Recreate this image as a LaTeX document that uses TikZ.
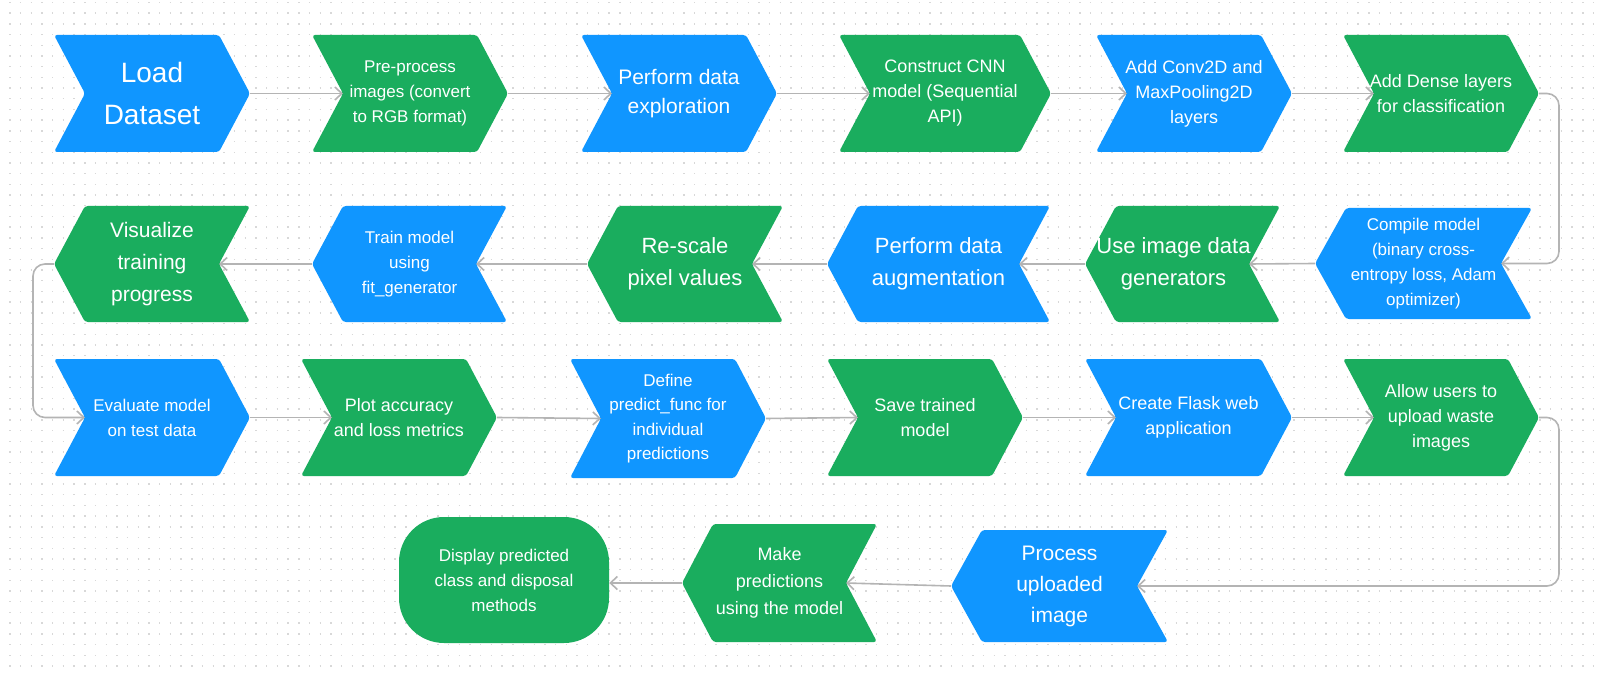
\documentclass[tikz,border=0pt]{standalone}
\usepackage{fontspec}
\setmainfont{Liberation Sans}
\usetikzlibrary{arrows.meta}
\definecolor{cblue}{HTML}{1096FF}
\definecolor{cgreen}{HTML}{1AAD5E}
\definecolor{cline}{HTML}{B4B4B4}
\definecolor{cdot}{HTML}{D8D8D8}
\newcommand{\chd}{31}
% right-pointing chevron: name, x0, x1, top, bottom, colour, size, leading, text
\newcommand{\rchev}[9]{%
  \fill[#6, rounded corners=3pt] (#2,#4) -- ({#3-\chd},#4) -- (#3,{(#4+#5)/2}) -- ({#3-\chd},#5) -- (#2,#5) -- ({#2+\chd},{(#4+#5)/2}) -- cycle;
  \coordinate (#1-in) at ({#2+\chd},{(#4+#5)/2});
  \coordinate (#1-out) at (#3,{(#4+#5)/2});
  \node[steptext, #1-t/.try, font=\fontsize{#7}{#8}\selectfont] (#1) at ({(#2+#3)/2},{(#4+#5)/2}) {#9};
}
% left-pointing chevron
\newcommand{\lchev}[9]{%
  \fill[#6, rounded corners=3pt] ({#2+\chd},#4) -- (#3,#4) -- ({#3-\chd},{(#4+#5)/2}) -- (#3,#5) -- ({#2+\chd},#5) -- (#2,{(#4+#5)/2}) -- cycle;
  \coordinate (#1-in) at ({#3-\chd},{(#4+#5)/2});
  \coordinate (#1-out) at (#2,{(#4+#5)/2});
  \node[steptext, #1-t/.try, font=\fontsize{#7}{#8}\selectfont] (#1) at ({(#2+#3)/2},{(#4+#5)/2}) {#9};
}
\tikzset{
  steptext/.style={text=white, align=center, inner sep=0pt},
  usegen-t/.style={xshift=-9pt},
  conn/.style={draw=cline, line width=1.6pt, -{Straight Barb[length=7pt, width=13pt, line width=1.6pt]}},
  dotline/.style={draw=cdot, line width=1.4pt, dash pattern=on 1.4pt off 9.3pt},
  endbox/.style={fill=cgreen, rounded corners=45pt, minimum width=210pt, minimum height=126pt, inner sep=0pt, text=white, align=center}
}
\begin{document}
\begin{tikzpicture}[x=1pt, y=-1pt]
\useasboundingbox (0,0) rectangle (1600,676);
\fill[white] (0,0) rectangle (1600,676);
\foreach \j in {0,...,62} {
  \draw[dotline] (9.2, {2.5+\j*10.7}) -- (1600, {2.5+\j*10.7});
}
% row 1
\rchev{load}{54}{250}{35}{152}{cblue}{28}{42}{Load\\Dataset}
\rchev{pre}{312}{508}{35}{152}{cgreen}{17}{25}{Pre-process\\images (convert\\to RGB format)}
\rchev{explore}{581}{777}{35}{152}{cblue}{21}{29}{Perform data\\exploration}
\rchev{cnn}{839}{1051}{35}{152}{cgreen}{18}{25}{Construct CNN\\model (Sequential\\API)}
\rchev{conv}{1096}{1292}{35}{152}{cblue}{18}{25}{Add Conv2D and\\MaxPooling2D\\layers}
\rchev{dense}{1343}{1539}{35}{152}{cgreen}{18}{25}{Add Dense layers\\for classification}
% row 2
\lchev{compile}{1315}{1532}{208}{319}{cblue}{17}{25}{Compile model\\(binary cross-\\entropy loss, Adam\\optimizer)}
\lchev{usegen}{1085}{1280}{206}{322}{cgreen}{22}{31.5}{Use image data\\generators}
\lchev{augment}{827}{1050}{206}{322}{cblue}{22}{31.5}{Perform data\\augmentation}
\lchev{rescale}{587}{783}{206}{322}{cgreen}{22}{31.5}{Re-scale\\pixel values}
\lchev{train}{312}{507}{206}{322}{cblue}{17}{25}{Train model\\using\\fit\_generator}
\lchev{visual}{54}{250}{206}{322}{cgreen}{21}{32}{Visualize\\training\\progress}
% row 3
\rchev{eval}{54}{250}{359}{476}{cblue}{17}{25}{Evaluate model\\on test data}
\rchev{plot}{301}{497}{359}{476}{cgreen}{18}{25}{Plot accuracy\\and loss metrics}
\rchev{define}{570}{766}{359}{478}{cblue}{17}{24.5}{Define\\predict\_func for\\individual\\predictions}
\rchev{save}{827}{1023}{359}{476}{cgreen}{18}{25}{Save trained\\model}
\rchev{flask}{1085}{1292}{359}{476}{cblue}{18}{25}{Create Flask web\\application}
\rchev{allow}{1343}{1539}{359}{476}{cgreen}{18}{25}{Allow users to\\upload waste\\images}
% row 4
\lchev{process}{951}{1168}{530}{642}{cblue}{21}{31}{Process\\uploaded\\image}
\lchev{make}{682}{877}{524}{642}{cgreen}{18}{27}{Make\\predictions\\using the model}
\node[endbox, font=\fontsize{17}{25}\selectfont] (display) at (504,580) {Display predicted\\class and disposal\\methods};
% connectors
\draw[conn] (load-out) -- (pre-in);
\draw[conn] (pre-out) -- (explore-in);
\draw[conn] (explore-out) -- (cnn-in);
\draw[conn] (cnn-out) -- (conv-in);
\draw[conn] (conv-out) -- (dense-in);
\draw[conn, rounded corners=12pt] (dense-out) -- ++(20,0) |- (compile-in);
\draw[conn] (compile-out) -- (usegen-in);
\draw[conn] (usegen-out) -- (augment-in);
\draw[conn] (augment-out) -- (rescale-in);
\draw[conn] (rescale-out) -- (train-in);
\draw[conn] (train-out) -- (visual-in);
\draw[conn, rounded corners=12pt] (visual-out) -- ++(-21,0) |- (eval-in);
\draw[conn] (eval-out) -- (plot-in);
\draw[conn] (plot-out) -- (define-in);
\draw[conn] (define-out) -- (save-in);
\draw[conn] (save-out) -- (flask-in);
\draw[conn] (flask-out) -- (allow-in);
\draw[conn, rounded corners=12pt] (allow-out) -- ++(20,0) |- (process-in);
\draw[conn] (process-out) -- (make-in);
\draw[conn] (make-out) -- (display.east |- make-out);
\end{tikzpicture}
\end{document}
